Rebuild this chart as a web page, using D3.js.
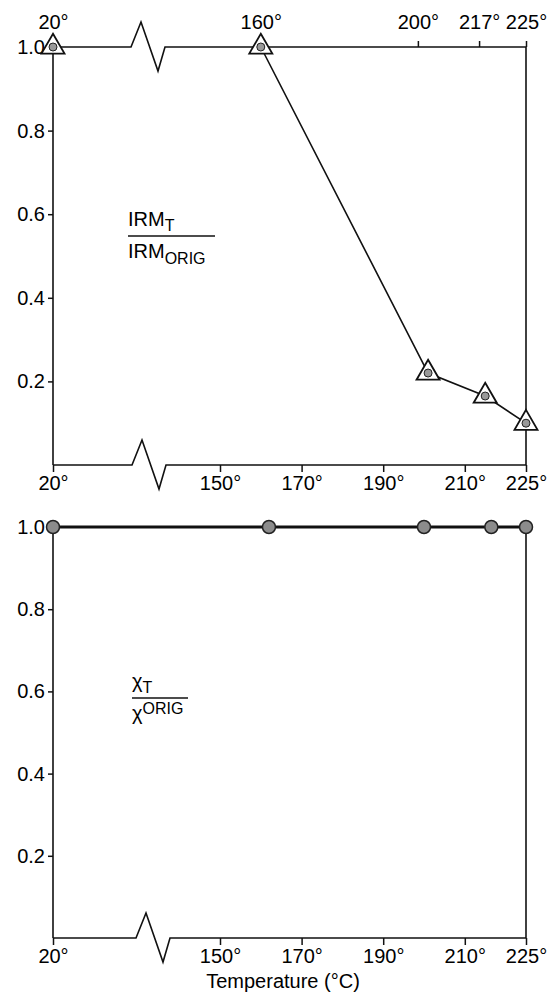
<!DOCTYPE html>
<html lang="en">
<head>
<meta charset="utf-8">
<title>IRM and susceptibility vs temperature</title>
<script src="https://d3js.org/d3.v7.min.js"></script>
<style>
  body { margin: 0; background: #fff; }
  svg text { font-family: "Liberation Sans", Arial, Helvetica, sans-serif; fill: #000; }
  .axis text { font-size: 20px; }
  .axis line { stroke: #111; stroke-width: 1.5; }
  .frame { fill: none; stroke: #111; stroke-width: 1.6; }
</style>
</head>
<body>
<script>
// temperatures (°C) where the points sit
var irmTemps = [20, 160, 201, 215, 225];
var irmRatio = [1.0, 1.0, 0.22, 0.165, 0.10];
var chiTemps = [20, 162, 200, 216.5, 225];
var chiRatio = [1.0, 1.0, 1.0, 1.0, 1.0];

var topTickValues = [20, 160, 198.5, 213.5, 225];
var topTickLabels = ["20°", "160°", "200°", "217°", "225°"];
var bottomTickValues = [20, 150, 170, 190, 210, 225];
var yTickValues = [0.2, 0.4, 0.6, 0.8, 1.0];

var width = 555, height = 996;
var svg = d3.select("body").append("svg")
    .attr("width", width)
    .attr("height", height);

// broken axis: 20° and then a jump to 150°
var x = d3.scaleLinear().domain([20, 150, 225]).range([53, 220, 526]);

var zig = [[0, 0], [10, -25], [27, 24], [34, 0]];
var line = d3.line();

function hline(g, yPos, breakX) {
  var pts = [[x(20), yPos]];
  if (breakX) zig.forEach(function(p) { pts.push([breakX + p[0], yPos + p[1]]); });
  pts.push([x(225), yPos]);
  g.append("path").attr("class", "frame").attr("d", line(pts));
}

function panel(top, bottom, breakTop, breakBottom) {
  var y = d3.scaleLinear().domain([0, 1]).range([bottom, top]);
  var g = svg.append("g");

  hline(g, y(1), breakTop);
  hline(g, y(0), breakBottom);
  g.append("path").attr("class", "frame").attr("d", line([[x(20), y(1)], [x(20), y(0)]]));
  g.append("path").attr("class", "frame").attr("d", line([[x(225), y(1)], [x(225), y(0)]]));

  g.append("g").attr("class", "axis")
      .attr("transform", "translate(" + x(20) + ",0)")
      .call(d3.axisLeft(y).tickValues(yTickValues).tickSize(5).tickPadding(3)
        .tickFormat(d3.format(".1f")))
      .call(function(a) { a.select(".domain").remove(); });

  g.append("g").attr("class", "axis")
      .attr("transform", "translate(0," + y(0) + ")")
      .call(d3.axisBottom(x).tickValues(bottomTickValues).tickSize(7).tickPadding(4)
        .tickFormat(function(d) { return d + "°"; }))
      .call(function(a) { a.select(".domain").remove(); });

  return {g: g, y: y};
}

// ---- top panel: IRM ----
var p1 = panel(47, 465, 131, 132);

p1.g.append("g").attr("class", "axis")
    .attr("transform", "translate(0," + p1.y(1) + ")")
    .call(d3.axisTop(x).tickValues(topTickValues).tickSize(6).tickPadding(12)
      .tickFormat(function(d, i) { return topTickLabels[i]; }))
    .call(function(a) { a.select(".domain").remove(); });

var irm = irmTemps.map(function(t, i) { return [t, irmRatio[i]]; });

// the segment 20° -> 160° runs along the broken frame line, so only the part after the break is drawn
p1.g.append("path")
    .attr("fill", "none").attr("stroke", "#111").attr("stroke-width", 1.6)
    .attr("d", d3.line().x(function(d) { return x(d[0]); }).y(function(d) { return p1.y(d[1]); })
      (irm.filter(function(d) { return d[0] >= 150; })));

var tri = p1.g.selectAll(".tri").data(irm).enter().append("g")
    .attr("transform", function(d) { return "translate(" + x(d[0]) + "," + p1.y(d[1]) + ")"; });
tri.append("path")
    .attr("d", d3.symbol().type(d3.symbolTriangle).size(230))
    .attr("fill", "#fff").attr("stroke", "#111").attr("stroke-width", 1.8);
tri.append("circle").attr("r", 4)
    .attr("fill", "#999").attr("stroke", "#222").attr("stroke-width", 1);

var l1 = p1.g.append("text").attr("x", 128).attr("y", 226).style("font-size", "20px");
l1.append("tspan").text("IRM");
l1.append("tspan").attr("dy", 5).style("font-size", "16px").text("T");
p1.g.append("path").attr("class", "frame")
    .attr("d", line([[128, 236], [215, 236]]));
var l2 = p1.g.append("text").attr("x", 128).attr("y", 258).style("font-size", "20px");
l2.append("tspan").text("IRM");
l2.append("tspan").attr("dy", 6).style("font-size", "16px").text("ORIG");

// ---- bottom panel: susceptibility ----
var p2 = panel(527, 938, null, 136);

var chi = chiTemps.map(function(t, i) { return [t, chiRatio[i]]; });

p2.g.append("path")
    .attr("fill", "none").attr("stroke", "#111").attr("stroke-width", 3.2)
    .attr("d", d3.line().x(function(d) { return x(d[0]); }).y(function(d) { return p2.y(d[1]); })(chi));

p2.g.selectAll(".dot").data(chi).enter().append("circle")
    .attr("cx", function(d) { return x(d[0]); })
    .attr("cy", function(d) { return p2.y(d[1]); })
    .attr("r", 6.5)
    .attr("fill", "#8c8c8c").attr("stroke", "#222").attr("stroke-width", 1.5);

var c1 = p2.g.append("text").attr("x", 132).attr("y", 688).style("font-size", "20px");
c1.append("tspan").text("χ");
c1.append("tspan").attr("dy", 5).style("font-size", "16px").text("T");
p2.g.append("path").attr("class", "frame")
    .attr("d", line([[132, 698], [188, 698]]));
var c2 = p2.g.append("text").attr("x", 132).attr("y", 720).style("font-size", "20px");
c2.append("tspan").text("χ");
c2.append("tspan").attr("dy", -6).style("font-size", "16px").text("ORIG");

svg.append("text")
    .attr("x", 283).attr("y", 988)
    .attr("text-anchor", "middle")
    .style("font-size", "20px")
    .text("Temperature (°C)");
</script>
</body>
</html>
